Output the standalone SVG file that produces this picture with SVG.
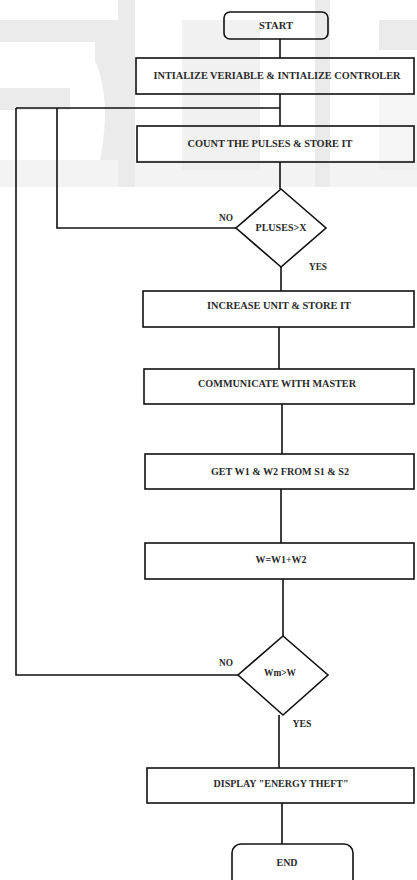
<svg xmlns="http://www.w3.org/2000/svg" width="417" height="880" viewBox="0 0 417 880">
<style>
.bg{fill:#ebebeb;}
.box{fill:none;stroke:#111;stroke-width:1.6;}
.ln{fill:none;stroke:#111;stroke-width:1.6;}
text{font-family:"Liberation Serif","Times New Roman",serif;font-weight:bold;font-size:9.5px;fill:#2a2a2a;text-anchor:middle;}
</style>
<rect width="417" height="880" fill="#fff"/>
<g id="watermark">
<rect class="bg" x="0" y="20" width="118" height="22"/>
<path class="bg" d="M95,42 L125,42 L125,160 L100,160 Q112,100 95,60 Z"/>
<rect class="bg" x="0" y="88" width="70" height="22"/>
<rect class="bg" x="0" y="160" width="417" height="27" opacity="0.6"/>
<rect class="bg" x="118" y="0" width="17" height="187"/>
<rect class="bg" x="182" y="20" width="78" height="150" opacity="0.7"/>
<rect class="bg" x="315" y="0" width="15" height="187"/>
<rect class="bg" x="379" y="20" width="38" height="30"/>
<rect class="bg" x="379" y="95" width="38" height="75" opacity="0.5"/>
</g>
<g id="connectors">
<line class="ln" x1="280" y1="39" x2="280" y2="58"/>
<line class="ln" x1="280" y1="94" x2="280" y2="126"/>
<line class="ln" x1="16" y1="108" x2="280" y2="108"/>
<polyline class="ln" points="57,108 57,228 236,228"/>
<polyline class="ln" points="16,108 16,675 238,675"/>
<line class="ln" x1="280" y1="162" x2="280" y2="189"/>
<line class="ln" x1="281" y1="267" x2="281" y2="291"/>
<line class="ln" x1="279" y1="327" x2="279" y2="369"/>
<line class="ln" x1="282" y1="404" x2="282" y2="454"/>
<line class="ln" x1="281" y1="489" x2="281" y2="543"/>
<line class="ln" x1="283" y1="579" x2="283" y2="636"/>
<line class="ln" x1="279" y1="715" x2="279" y2="768"/>
<line class="ln" x1="282" y1="803" x2="282" y2="844"/>
<text x="226" y="221" textLength="14" lengthAdjust="spacingAndGlyphs">NO</text>
<text x="318" y="270" textLength="18" lengthAdjust="spacingAndGlyphs">YES</text>
<text x="226" y="666" textLength="14" lengthAdjust="spacingAndGlyphs">NO</text>
<text x="302" y="727" textLength="19" lengthAdjust="spacingAndGlyphs">YES</text>
</g>
<g id="start">
<rect class="box" x="224" y="12" width="104" height="27" rx="6"/>
<text x="276" y="29" textLength="34" lengthAdjust="spacingAndGlyphs">START</text>
</g>
<g id="init">
<rect class="box" x="136" y="58" width="278" height="36"/>
<text x="277" y="79" textLength="247" lengthAdjust="spacingAndGlyphs">INTIALIZE VERIABLE &amp; INTIALIZE CONTROLER</text>
</g>
<g id="count">
<rect class="box" x="137" y="126" width="277" height="36"/>
<text x="270" y="147" textLength="165" lengthAdjust="spacingAndGlyphs">COUNT THE PULSES &amp; STORE IT</text>
</g>
<g id="decision1">
<polygon class="box" points="281,189 326,228 281,267 236,228"/>
<text x="281" y="231" textLength="51" lengthAdjust="spacingAndGlyphs">PLUSES&gt;X</text>
</g>
<g id="increase">
<rect class="box" x="143" y="291" width="271" height="36"/>
<text x="279" y="309" textLength="144" lengthAdjust="spacingAndGlyphs">INCREASE UNIT &amp; STORE IT</text>
</g>
<g id="communicate">
<rect class="box" x="144" y="369" width="270" height="35"/>
<text x="277" y="387" textLength="158" lengthAdjust="spacingAndGlyphs">COMMUNICATE WITH MASTER</text>
</g>
<g id="get">
<rect class="box" x="145" y="454" width="269" height="35"/>
<text x="280" y="475" textLength="138" lengthAdjust="spacingAndGlyphs">GET W1 &amp; W2 FROM S1 &amp; S2</text>
</g>
<g id="sum">
<rect class="box" x="145" y="543" width="269" height="36"/>
<text x="281" y="563" textLength="51" lengthAdjust="spacingAndGlyphs">W=W1+W2</text>
</g>
<g id="decision2">
<polygon class="box" points="283,636 328,675 283,715 238,675"/>
<text x="280" y="676" textLength="32" lengthAdjust="spacingAndGlyphs">Wm&gt;W</text>
</g>
<g id="display">
<rect class="box" x="147" y="768" width="267" height="35"/>
<text x="281" y="787" textLength="135" lengthAdjust="spacingAndGlyphs">DISPLAY "ENERGY THEFT"</text>
</g>
<g id="end">
<rect class="box" x="232" y="844" width="121" height="60" rx="9"/>
<text x="287" y="866" textLength="21" lengthAdjust="spacingAndGlyphs">END</text>
</g>
</svg>
